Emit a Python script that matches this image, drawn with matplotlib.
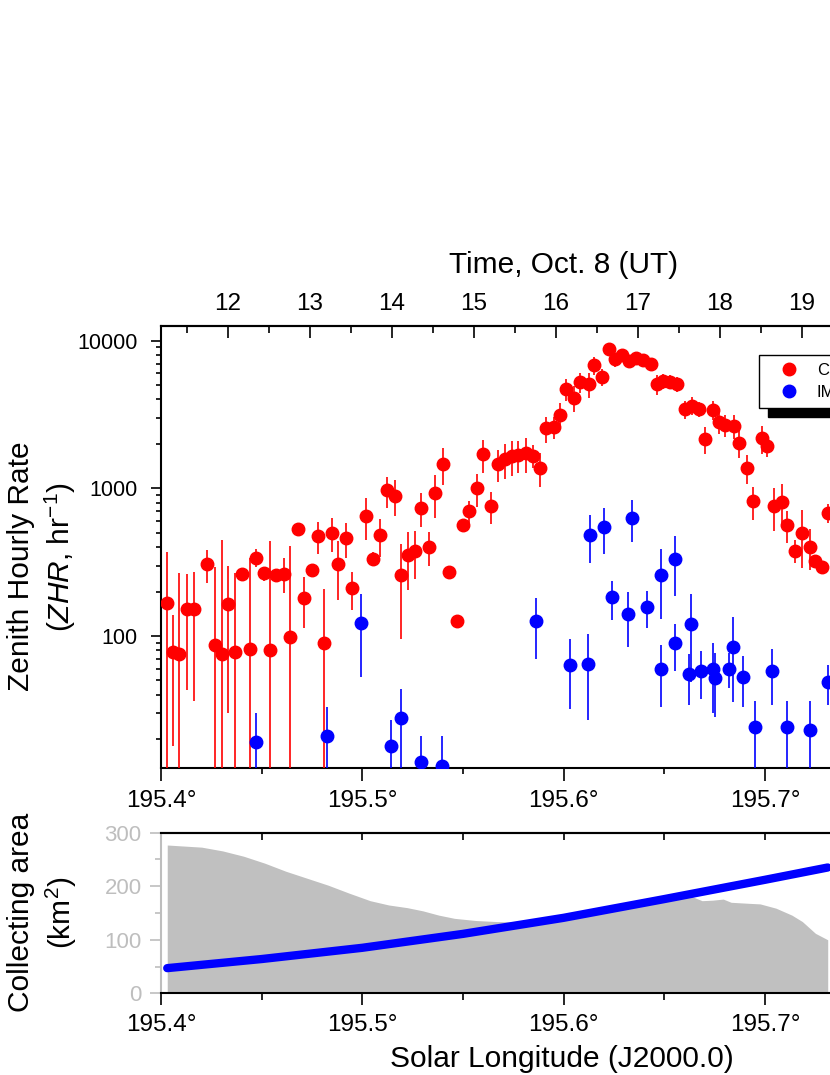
import numpy as np
import matplotlib
matplotlib.use("Agg")
import matplotlib.pyplot as plt
from matplotlib.lines import Line2D
from matplotlib.ticker import NullFormatter

plt.rcParams['font.family'] = ['Liberation Sans', 'DejaVu Sans']
plt.rcParams['mathtext.fontset'] = 'custom'
plt.rcParams['mathtext.rm'] = 'Liberation Sans'
plt.rcParams['mathtext.it'] = 'Liberation Sans:italic'


# ZHR, first series (red)
red_lon = [195.4030, 195.4060, 195.4089, 195.4129, 195.4162, 195.4230, 195.4270, 195.4301,
           195.4331, 195.4369, 195.4401, 195.4440, 195.4470, 195.4512, 195.4541, 195.4570,
           195.4611, 195.4641, 195.4681, 195.4710, 195.4750, 195.4780, 195.4811, 195.4851,
           195.4879, 195.4921, 195.4951, 195.5020, 195.5052, 195.5090, 195.5121, 195.5161,
           195.5191, 195.5229, 195.5262, 195.5292, 195.5331, 195.5361, 195.5401, 195.5432,
           195.5472, 195.5502, 195.5532, 195.5570, 195.5601, 195.5641, 195.5673, 195.5709,
           195.5742, 195.5775, 195.5812, 195.5846, 195.5883, 195.5911, 195.5952, 195.5982,
           195.6010, 195.6052, 195.6081, 195.6126, 195.6153, 195.6191, 195.6224, 195.6254,
           195.6290, 195.6323, 195.6360, 195.6396, 195.6433, 195.6462, 195.6495, 195.6529,
           195.6562, 195.6603, 195.6636, 195.6674, 195.6702, 195.6741, 195.6773, 195.6803,
           195.6846, 195.6873, 195.6912, 195.6942, 195.6984, 195.7012, 195.7044, 195.7085,
           195.7111, 195.7151, 195.7184, 195.7224, 195.7249, 195.7282, 195.7315]
red_zhr = [168, 78, 75, 153, 153, 306, 87, 76, 164, 78, 262, 82, 340, 266, 80, 258,
           265, 98, 534, 182, 279, 474, 90, 501, 308, 459, 211, 651, 334, 481, 970, 893,
           258, 354, 379, 741, 403, 931, 1463, 272, 126, 565, 703, 1001, 1701, 760, 1463, 1573,
           1657, 1683, 1728, 1665, 1382, 2551, 2618, 3124, 4686, 4115, 5226, 5065, 6811, 5649,
           8785, 7479, 8043, 7325, 7597, 7402, 6918, 5065, 5336, 5280, 5091, 3430, 3633, 3430,
           2160, 3395, 2830, 2686, 2658, 2040, 1375, 821, 2183, 1937, 756, 813, 565, 379,
           501, 403, 324, 295, 685]
red_err = [200, 60, 191, 110, 117, 77, 205, 371, 134, 188, 26, 254, 47, 29, 360, 20,
           71, 311, 25, 68, 20, 115, 118, 132, 132, 121, 60, 206, 38, 136, 231, 247,
           162, 150, 136, 195, 106, 301, 405, 20, 10, 35, 118, 250, 426, 190, 357, 415,
           448, 420, 455, 300, 364, 509, 442, 643, 790, 820, 790, 950, 990, 750,
           914, 800, 800, 700, 700, 700, 700, 794, 600, 600, 600, 500, 500, 400,
           458, 513, 480, 450, 500, 446, 308, 206, 463, 300, 245, 258, 140, 68,
           213, 125, 30, 25, 100]

# ZHR, second series (blue)
blue_lon = [195.4470, 195.4823, 195.4992, 195.5141, 195.5191, 195.5292, 195.5397, 195.5861,
            195.6032, 195.6123, 195.6133, 195.6201, 195.6240, 195.6321, 195.6341, 195.6413,
            195.6482, 195.6482, 195.6552, 195.6552, 195.6631, 195.6623, 195.6681, 195.6741,
            195.6752, 195.6822, 195.6843, 195.6893, 195.6952, 195.7034, 195.7111, 195.7222,
            195.7315]
blue_zhr = [19.0, 21.1, 122.7, 18.0, 28.0, 14.0, 13.1, 125.9, 63.8, 65.1, 486, 551, 183,
            142, 634, 157, 260, 60.2, 333, 89.3, 121, 55.1, 58.3, 60.2, 52.3, 60.2, 84.8,
            52.8, 24.1, 58.0, 24.1, 23.1, 49.1]
blue_err = [11, 12, 70, 9, 16, 7, 8, 56, 32, 38, 174, 190, 54, 58, 200, 44, 130, 27,
            146, 31, 72, 21, 21, 30, 24, 16, 49, 20, 12, 24, 12, 13, 15]

legend_names = ['CMOR', 'IMO']

# collecting area (bottom panel)
area_lon = [195.4031, 195.4202, 195.4306, 195.4411, 195.4516, 195.4620, 195.4725, 195.4830,
            195.4935, 195.5039, 195.5131, 195.5223, 195.5301, 195.5380, 195.5458, 195.5563,
            195.5668, 195.5772, 195.5851, 195.5955, 195.6060, 195.6165, 195.6270, 195.6374,
            195.6479, 195.6584, 195.6636, 195.6688, 195.6741, 195.6793, 195.6832, 195.6924,
            195.6976, 195.7055, 195.7134, 195.7186, 195.7251, 195.7312]
area_km2 = [277, 273, 266, 256, 243, 228, 215, 202, 187, 173, 165, 160, 154, 146, 140, 136,
            134, 133, 134, 140, 148, 154, 163, 171, 176, 178, 181, 173, 174, 176, 170, 168,
            167, 159, 146, 134, 112, 100]

curve_lon = [195.4031, 195.4500, 195.5000, 195.5500, 195.6000, 195.6500, 195.7000, 195.7312]
curve_km2 = [47, 64, 85, 111, 141, 176, 212, 235]

lon_ticks = [195.4, 195.5, 195.6, 195.7]
lon_minor = [195.45, 195.55, 195.65, 195.75]
lon_labels = ['195.4°', '195.5°', '195.6°', '195.7°']
hour_ticks = list(range(12, 20))
area_ticks = [0, 100, 200, 300]


W, H = 830, 1075
fig = plt.figure(figsize=(W / 100, H / 100), dpi=100)


def box(left, top, right, bottom):
    return [left / W, 1 - bottom / H, (right - left) / W, (bottom - top) / H]


x_right = 161 + 0.4 * 2013
ax = fig.add_axes(box(161, 326, x_right, 768.3))
axa = fig.add_axes(box(161, 832.7, x_right, 993.3))

fs_xtick = 17.5
fs_ytick = 15.5
fs_label = 21.5

# ---- top panel
red_zhr = np.array(red_zhr, float)
red_err = np.array(red_err, float)
blue_zhr = np.array(blue_zhr, float)
blue_err = np.array(blue_err, float)

ax.errorbar(red_lon, red_zhr, yerr=[np.minimum(red_err, red_zhr * 0.999), red_err],
            fmt='o', color='red', ms=9, mec='red', elinewidth=1.2, capsize=0, zorder=3)
ax.errorbar(blue_lon, blue_zhr, yerr=[np.minimum(blue_err, blue_zhr * 0.999), blue_err],
            fmt='o', color='blue', ms=9, mec='blue', elinewidth=1.2, capsize=0, zorder=4)

ax.set_yscale('log')
ax.set_xlim(195.4, 195.8)
ax.set_ylim(12.7, 12580)
ax.set_yticks([100, 1000, 10000], labels=['100', '1000', '10000'])
ax.set_yticks([m * 10 ** e for e in (1, 2, 3) for m in range(2, 10)], minor=True)
ax.yaxis.set_minor_formatter(NullFormatter())
ax.set_xticks(lon_ticks, labels=lon_labels)
ax.set_xticks(lon_minor, minor=True)

for s in ax.spines.values():
    s.set_linewidth(1.5)
ax.tick_params(axis='x', which='major', direction='out', length=9, width=1.2,
               labelsize=fs_xtick, pad=6.5, top=False)
ax.tick_params(axis='x', which='minor', direction='out', length=4.3, width=1.2, top=False)
ax.tick_params(axis='y', which='major', direction='out', length=7, width=1.2,
               labelsize=fs_ytick, pad=10, right=False)
ax.tick_params(axis='y', which='minor', direction='out', length=3.6, width=1.2, right=False)


def lon2h(l):
    return 12 + (np.asarray(l) - 195.43308) / 0.040765


def h2lon(h):
    return 195.43308 + (np.asarray(h) - 12) * 0.040765


sec = ax.secondary_xaxis('top', functions=(lon2h, h2lon))
sec.set_xticks(hour_ticks, labels=[str(h) for h in hour_ticks])
sec.set_xticks(np.arange(11.5, 20, 1.0), minor=True)
sec.tick_params(which='major', direction='in', length=8.6, width=1.2, pad=8, labelsize=fs_xtick)
sec.tick_params(which='minor', direction='in', length=5, width=1.2)
sec.spines['top'].set_linewidth(1.5)

handles = [Line2D([], [], ls='none', marker='o', color='red', ms=9),
           Line2D([], [], ls='none', marker='o', color='blue', ms=9)]
leg = ax.legend(handles, legend_names, loc='upper left',
                bbox_to_anchor=((759 - 161) / (x_right - 161), (768.3 - 355) / 442.3),
                borderaxespad=0, fontsize=12, fancybox=False, edgecolor='black',
                framealpha=1, handlelength=2.67, handletextpad=0.34, borderpad=0.46,
                labelspacing=0.44,
                shadow={'ox': 6.5, 'oy': -6.5, 'facecolor': 'black',
                        'edgecolor': 'black', 'alpha': 1})
leg.get_frame().set_linewidth(1.0)

# ---- bottom panel
axa.fill_between(area_lon, 0, area_km2, color='#C0C0C0', lw=0, zorder=1)
axa.plot(curve_lon, curve_km2, color='blue', lw=6, solid_capstyle='round', zorder=2)
axa.set_xlim(195.4, 195.8)
axa.set_ylim(0, 300)
axa.set_yticks(area_ticks)
axa.set_yticks([50, 150, 250], minor=True)
axa.set_xticks(lon_ticks, labels=lon_labels)
axa.set_xticks(lon_minor, minor=True)

for s in axa.spines.values():
    s.set_linewidth(1.5)
axa.spines['left'].set_color('#BEBEBE')
axa.tick_params(axis='x', which='major', direction='out', length=8.4, width=1.2,
                labelsize=fs_xtick, pad=6.5, top=False)
axa.tick_params(axis='x', which='minor', direction='out', length=4.8, width=1.2, top=False)
axa.tick_params(axis='y', which='major', direction='out', length=8, width=1.2,
                labelsize=16, pad=6, colors='#BEBEBE', right=False)
axa.tick_params(axis='y', which='minor', direction='out', length=4.3, width=1.2,
                colors='#BEBEBE', right=False)

sec2 = axa.secondary_xaxis('top')
sec2.set_xticks(lon_ticks, labels=[''] * len(lon_ticks))
sec2.set_xticks(lon_minor, minor=True)
sec2.tick_params(which='both', direction='in', length=5, width=1.2)
sec2.spines['top'].set_linewidth(1.5)

# ---- axis titles
fig.text(29.3 / W, 1 - 566.5 / H, 'Zenith Hourly Rate', rotation=90, rotation_mode='anchor',
         ha='center', va='baseline', fontsize=fs_label)
fig.text(70 / W, 1 - 557.5 / H, '($\\mathit{ZHR}$, hr$^{-1}$)', rotation=90,
         rotation_mode='anchor', ha='center', va='baseline', fontsize=fs_label)
fig.text(29 / W, 1 - 912.5 / H, 'Collecting area', rotation=90, rotation_mode='anchor',
         ha='center', va='baseline', fontsize=fs_label)
fig.text(71 / W, 1 - 913 / H, '(km$^{2}$)', rotation=90, rotation_mode='anchor',
         ha='center', va='baseline', fontsize=fs_label)
fig.text(564 / W, 1 - 273 / H, 'Time, Oct. 8 (UT)', ha='center', va='baseline',
         fontsize=fs_label)
fig.text(562 / W, 1 - 1067 / H, 'Solar Longitude (J2000.0)', ha='center', va='baseline',
         fontsize=fs_label)

fig.savefig('out.png', dpi=100)
